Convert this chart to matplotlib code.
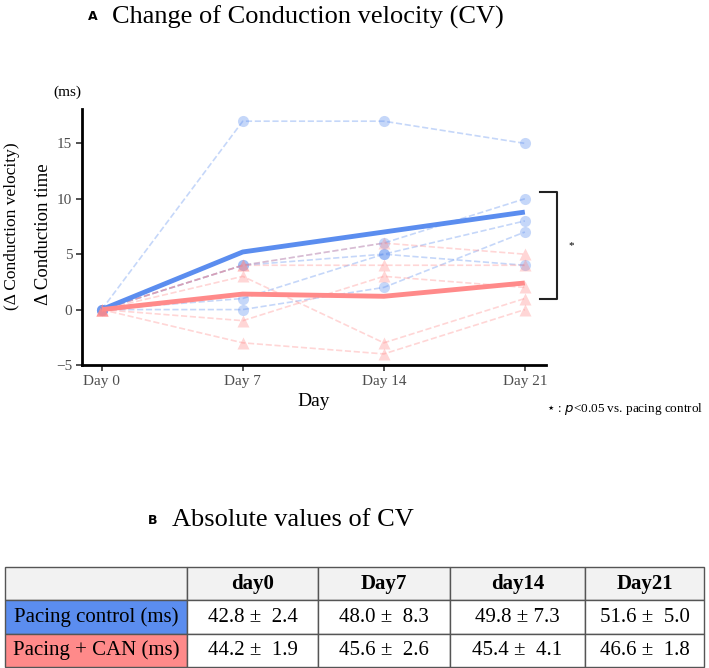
import numpy as np
import matplotlib
matplotlib.use("Agg")
import matplotlib.pyplot as plt

# datos
days = ["Day 0", "Day 7", "Day 14", "Day 21"]

# individuos grupo control (circulos azules)
ctrl_1 = [0, 17, 17, 15]
ctrl_2 = [0, 4, 6, 10]
ctrl_3 = [0, 4, 5, 4]
ctrl_4 = [0, 1, 5, 8]
ctrl_5 = [0, 0, 2, 7]

# individuos grupo CAN (triangulos rojos)
can_1 = [0, 4, 6, 5]
can_2 = [0, 4, 4, 4]
can_3 = [0, 3, -3, 1]
can_4 = [0, -1, 3, 2]
can_5 = [0, -3, -4, 0]

# promedios
ctrl_mean = [0, 5.2, 7.0, 8.8]
can_mean = [0, 1.4, 1.2, 2.4]

# tabla
col_labels = ["day0", "Day7", "day14", "Day21"]
row_labels = ["Pacing control (ms)", "Pacing + CAN (ms)"]
ctrl_vals = ["42.8 \u00b1  2.4", "48.0 \u00b1  8.3", "49.8 \u00b1 7.3", "51.6 \u00b1  5.0"]
can_vals = ["44.2 \u00b1  1.9", "45.6 \u00b1  2.6", "45.4 \u00b1  4.1", "46.6 \u00b1  1.8"]

serif = "Liberation Serif"
azul = "#5B8DEF"
rojo = "#FF8A8A"

fig = plt.figure(figsize=(7.09, 6.68), dpi=100)
W, H = 709, 668

# Panel A
ax = fig.add_axes([82 / W, 1 - 365 / H, (546 - 82) / W, (365 - 109) / H])
x = np.arange(len(days))

for serie in [ctrl_1, ctrl_2, ctrl_3, ctrl_4, ctrl_5]:
    ax.plot(x, serie, ls="--", lw=1.2, color=azul, alpha=0.35,
            marker="o", ms=8, mec="none", zorder=2)
for serie in [can_1, can_2, can_3, can_4, can_5]:
    ax.plot(x, serie, ls="--", lw=1.2, color=rojo, alpha=0.35,
            marker="^", ms=9, mec="none", zorder=2)

ax.plot(x, ctrl_mean, color=azul, lw=3.5, zorder=4, solid_capstyle="butt")
ax.plot(x, can_mean, color=rojo, lw=3.5, zorder=4, solid_capstyle="butt")

ax.set_xlim(-0.14, 3.15)
ax.set_ylim(-5, 18.1)
ax.set_xticks(x)
ax.set_xticklabels(days)
ax.set_yticks([-5, 0, 5, 10, 15])
for lab in ax.get_xticklabels() + ax.get_yticklabels():
    lab.set_fontfamily(serif)
    lab.set_fontsize(11)
    lab.set_color("#4D4D4D")
ax.tick_params(length=4, width=1.2, color="#333333", pad=3)
ax.spines["top"].set_visible(False)
ax.spines["right"].set_visible(False)
ax.spines["left"].set_linewidth(2)
ax.spines["bottom"].set_linewidth(2)

ax.set_xlabel("Day", fontfamily=serif, fontsize=14, labelpad=4)

fig.text(12 / W, 1 - 226 / H, "(\u0394 Conduction velocity)", rotation=90,
         family=serif, fontsize=12.5, ha="center", va="center")
fig.text(43 / W, 1 - 234 / H, "\u0394 Conduction time", rotation=90,
         family=serif, fontsize=13.5, ha="center", va="center")
fig.text(67 / W, 1 - 92 / H, "(ms)", family=serif, fontsize=11,
         ha="center", va="center")

# corchete de significancia
ax.plot([3.106, 3.23, 3.23, 3.106], [10.6, 10.6, 1.0, 1.0], color="#222222",
        lw=1.5, clip_on=False)
ax.text(3.33, 5.8, "*", fontsize=8, ha="center", va="center", family=serif)

fig.text(703 / W, 1 - 409 / H, r"$\star$ : $\it{p}$<0.05 vs. pacing control",
         family=serif, fontsize=9.5, ha="right", va="center")

# titulos
fig.text(88 / W, 1 - 17 / H, "A", family="DejaVu Sans", fontweight="bold",
         fontsize=9, ha="left", va="center")
fig.text(112 / W, 1 - 17 / H, "Change of Conduction velocity (CV)", family=serif,
         fontsize=19, ha="left", va="center")
fig.text(148 / W, 1 - 520 / H, "B", family="DejaVu Sans", fontweight="bold",
         fontsize=9, ha="left", va="center")
fig.text(172 / W, 1 - 520 / H, "Absolute values of CV", family=serif,
         fontsize=19, ha="left", va="center")

# Panel B: tabla
axt = fig.add_axes([5 / W, 1 - 667 / H, 699 / W, 100 / H])
axt.axis("off")
celdas = [[""] + col_labels,
          [row_labels[0]] + ctrl_vals,
          [row_labels[1]] + can_vals]
anchos = np.array([182, 131, 132, 135, 119]) / 699
tabla = axt.table(cellText=celdas, colWidths=anchos, cellLoc="center",
                  bbox=[0, 0, 1, 1])
tabla.auto_set_font_size(False)
for (r, c), celda in tabla.get_celld().items():
    celda.set_edgecolor("#555555")
    celda.set_linewidth(1.0)
    txt = celda.get_text()
    txt.set_fontfamily(serif)
    txt.set_fontsize(15)
    if r == 0:
        celda.set_facecolor("#F2F2F2")
        txt.set_fontweight("bold")
    elif c == 0:
        celda.set_facecolor(azul if r == 1 else rojo)
    else:
        celda.set_facecolor("white")

fig.savefig("out.png", dpi=100)
